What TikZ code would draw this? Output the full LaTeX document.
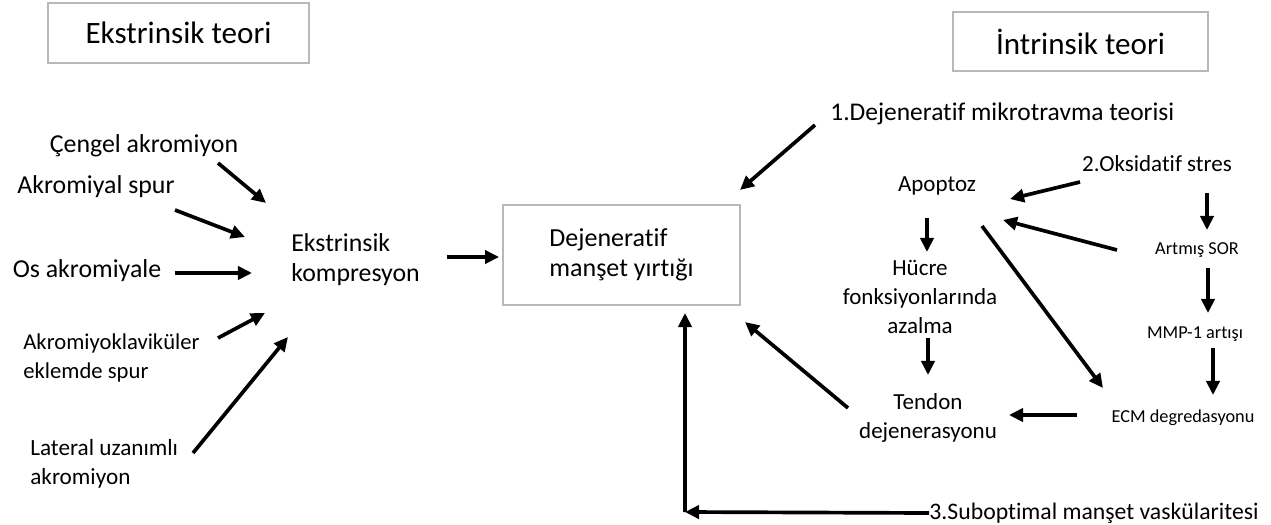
\documentclass[tikz,border=0pt]{standalone}
\usepackage{fontspec}
\setmainfont{Carlito}[Ligatures=NoCommon]
\usetikzlibrary{arrows.meta,calc}

\begin{document}
\begin{tikzpicture}[x=.02cm,y=-.02cm,
  arr/.style={line width=2.1pt,-{Triangle[length=8pt,width=7.5pt]}},
  lbl/.style={inner sep=0pt,font=\fontsize{14.7}{17}\selectfont},
  rlbl/.style={inner sep=0pt,font=\fontsize{13.1}{16.3}\selectfont},
  sml/.style={inner sep=0pt,font=\fontsize{10.4}{12}\selectfont},
  ttlbox/.style={draw=black!28,line width=1.1pt,font=\fontsize{17.7}{21}\selectfont}]
\useasboundingbox (0,0) rectangle (1271,524);
\node[ttlbox,minimum width=5.22cm,minimum height=1.2cm] (exttitle) at (178.5,33) {Ekstrinsik teori};
\node[ttlbox,minimum width=5.1cm,minimum height=1.18cm] (inttitle) at (1080.5,41.5) {İntrinsik teori};
\node[lbl] (cengel) at (144,146) {Çengel akromiyon};
\node[lbl] (akspur) at (96,187) {Akromiyal spur};
\node[lbl] (osakr) at (87,271) {Os akromiyale};
\node[lbl,font=\fontsize{12.9}{16}\selectfont,anchor=west,align=left] (akromklav) at (23,358) {Akromiyoklaviküler\\eklemde spur};
\node[lbl,font=\fontsize{13.2}{16.4}\selectfont,anchor=west,align=left] (lateral) at (30,464) {Lateral uzanımlı\\akromiyon};
\node[lbl,anchor=west,align=left] (komp) at (291,260) {Ekstrinsik\\kompresyon};
\node[draw=black!28,line width=1.1pt,minimum width=4.74cm,minimum height=2cm,align=left,
  font=\fontsize{14.8}{17}\selectfont] (tear) at (621.5,255) {Dejeneratif\\manşet yırtığı};
\node[lbl,font=\fontsize{14.5}{17}\selectfont,anchor=west] (mikro) at (830,114) {1.Dejeneratif mikrotravma teorisi};
\node[rlbl] (apoptoz) at (937,186) {Apoptoz};
\node[rlbl] (oksid) at (1157,164) {2.Oksidatif stres};
\node[sml] (sor) at (1197,250) {Artmış SOR};
\node[sml] (mmp) at (1195,334) {MMP-1 artışı};
\node[sml] (ecm) at (1183,418) {ECM degredasyonu};
\node[rlbl,align=center] (hucre) at (920,297) {Hücre\\fonksiyonlarında\\azalma};
\node[rlbl,align=center] (tendon) at (928,418) {Tendon\\dejenerasyonu};
\node[lbl,font=\fontsize{13.5}{16}\selectfont,anchor=east] (subopt) at (1259,513) {3.Suboptimal manşet vaskülaritesi};
\coordinate (corner) at (685,512);

\draw[arr] ($(cengel)+(74,17)$) -- ($(komp.west)+(-25,-57)$);
\draw[arr] ($(akspur)+(79,23)$) -- ($(komp.west)+(-46,-23)$);
\draw[arr] ($(osakr)+(88,2)$) -- ($(komp.west)+(-39,13)$);
\draw[arr] ($(akromklav.west)+(195,-20)$) -- ($(komp.west)+(-26,53)$);
\draw[arr] ($(lateral.west)+(163,-11)$) -- ($(komp.west)+(-3,77)$);
\draw[arr] ($(komp.west)+(156,-3)$) -- ($(tear.west)+(-3,2)$);
\draw[arr] ($(mikro.west)+(-15,11)$) -- ($(tear)+(118.5,-65)$);
\draw[arr] ($(oksid)+(-77,18)$) -- ($(apoptoz)+(73,13)$);
\draw[arr] ($(sor)+(-80,0)$) -- ($(apoptoz)+(66,34)$);
\draw[arr] ($(oksid)+(50,29)$) -- ($(sor)+(10,-20)$);
\draw[arr] ($(sor)+(11,18)$) -- ($(mmp)+(13,-21)$);
\draw[arr] ($(mmp)+(18,14)$) -- ($(ecm)+(30,-23)$);
\draw[arr] ($(ecm)+(-106,-3)$) -- ($(tendon)+(81,-3)$);
\draw[arr] ($(apoptoz)+(45,40)$) -- ($(ecm)+(-80,-30)$);
\draw[arr] ($(apoptoz)+(-10,32)$) -- ($(hucre)+(7,-45)$);
\draw[arr] ($(hucre)+(8,41)$) -- ($(tendon)+(0,-43)$);
\draw[arr] ($(tendon)+(-80,-10)$) -- ($(tear)+(123.5,67)$);
\draw[arr] (subopt.west) -- (corner);
\draw[arr] (corner) -- ($(tear)+(63.5,58)$);
\end{tikzpicture}
\end{document}
